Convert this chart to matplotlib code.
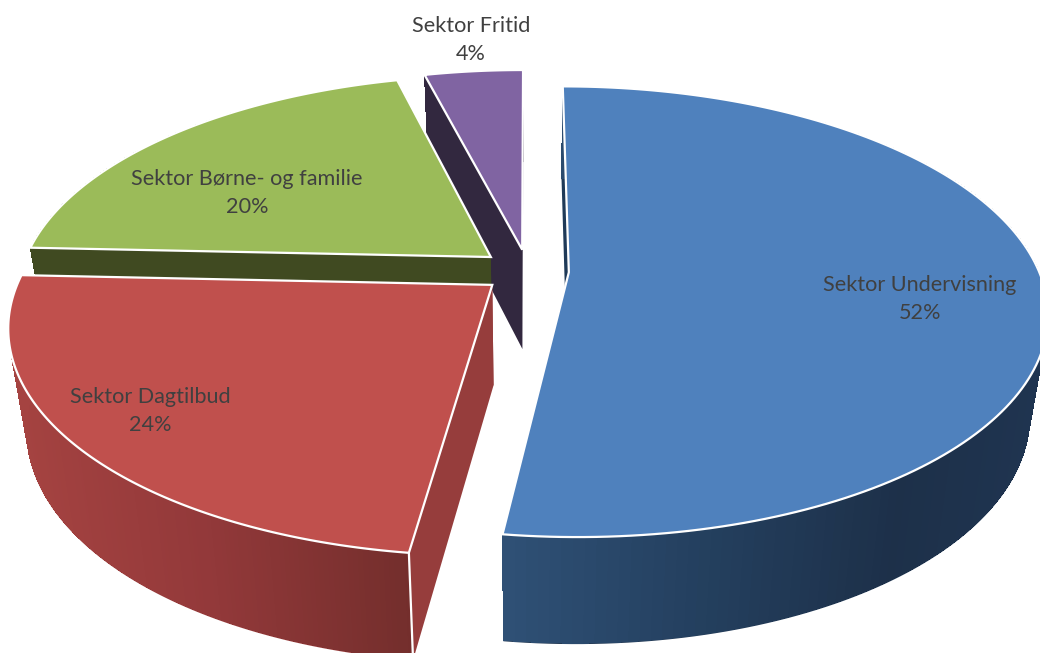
# -*- coding: utf-8 -*-

"""
Exploded 3D pie of the share per sector, drawn with plain polygons.
"""

# %% Imports
import numpy as np
import matplotlib
matplotlib.use("Agg")
import matplotlib.pyplot as plt
from matplotlib.collections import PolyCollection
from matplotlib.patches import Polygon

# %% Data
sectors = ["Sektor Undervisning", "Sektor Dagtilbud",
           "Sektor Børne- og familie", "Sektor Fritid"]
shares = [52.1, 23.6, 20.3, 4.0]

# %% Style
top_colors = ["#4f81bd", "#c0504d", "#9bbb59", "#8064a2"]
wall_colors = ["#1f3a58", "#963d3c", "#404a21", "#32283f"]
rim_stops = [
    ([501, 700, 900, 1040], ["#2f5176", "#24405f", "#1d3049", "#1f3450"]),
    ([10, 200, 412], ["#a54341", "#93393a", "#732e2c"]),
    ([0, 1040], ["#404a21", "#404a21"]),
    ([0, 1040], ["#32283f", "#32283f"]),
]
explode = [0.087, 0.098, 0.103, 0.1]
label_xy = [(920, 299), (150, 411), (247, 193), (471, 40)]

# projection of the pie plane onto the picture, in pixels
CX, CY = 528, 271
RX, RY = 470, 218
PERSP = 0.175
DEPTH = 100
START_ANGLE = 0.0


def project(u, v, depth=0.0):
    w = 1 + PERSP * v
    x = CX + RX * u / w
    y = CY - RY * v / w
    if depth:
        # the lower plane sits a little lower at the front, and narrows slightly
        y = y + depth * (1.0 - 0.07 * v)
        x = x + (CX - x) * 0.035
    return x, y


def rim_colors(x_mid, stops):
    xs, cols = stops
    rgb = np.array([matplotlib.colors.to_rgb(c) for c in cols])
    return np.column_stack([np.interp(x_mid, xs, rgb[:, i]) for i in range(3)])


# %% Figure
fig = plt.figure(figsize=(10.40, 6.53), dpi=100)
ax = fig.add_axes([0, 0, 1, 1])
ax.set_xlim(0, 1040)
ax.set_ylim(653, 0)
ax.axis("off")

total = sum(shares)
ends = START_ANGLE + np.cumsum(shares) / total * 360.0
starts = ends - np.array(shares) / total * 360.0

# painter's order: from the back of the pie to the front
for i in [3, 2, 1, 0]:
    a0, a1 = np.radians(starts[i]), np.radians(ends[i])
    mid = (a0 + a1) / 2
    off_u, off_v = explode[i] * np.sin(mid), explode[i] * np.cos(mid)
    theta = np.linspace(a0, a1, 160)
    arc_u = off_u + np.sin(theta)
    arc_v = off_v + np.cos(theta)

    tx, ty = project(arc_u, arc_v)
    bx, by = project(arc_u, arc_v, DEPTH)
    ax0, ay0 = project(off_u, off_v)
    ax1, ay1 = project(off_u, off_v, DEPTH)
    base_z = 10 + (3 - i) * 10

    # the two radial walls
    for k in (-1, 0):
        wall = [(ax0, ay0), (tx[k], ty[k]), (bx[k], by[k]), (ax1, ay1)]
        ax.add_patch(Polygon(wall, closed=True, facecolor=wall_colors[i],
                             edgecolor="none", zorder=base_z))

    # outer rim: a smooth underlay for the edge, then bands shaded along x
    colors = rim_colors((tx[:-1] + tx[1:]) / 2, rim_stops[i])
    under = np.column_stack([np.r_[tx, bx[::-1]], np.r_[ty, by[::-1]]])
    ax.add_patch(Polygon(under, closed=True, facecolor=colors.mean(axis=0),
                         edgecolor="none", zorder=base_z + 1))
    quads = [[(tx[j], ty[j]), (tx[j + 1], ty[j + 1]),
              (bx[j + 1], by[j + 1] - 1), (bx[j], by[j] - 1)]
             for j in range(len(tx) - 1)]
    ax.add_collection(PolyCollection(quads, facecolors=colors, edgecolors="none",
                                     antialiaseds=False, zorder=base_z + 2))

    # top face
    top = np.column_stack([np.r_[ax0, tx], np.r_[ay0, ty]])
    ax.add_patch(Polygon(top, closed=True, facecolor=top_colors[i],
                         edgecolor="white", linewidth=1.6, joinstyle="miter",
                         zorder=base_z + 3))

    # white corner between the front wall and the rim
    if i == 1:
        ax.plot([tx[0], bx[0]], [ty[0], by[0]], color="white", linewidth=1.6,
                zorder=base_z + 3)

# %% Labels
for name, share, (lx, ly) in zip(sectors, shares, label_xy):
    ax.text(lx, ly, f"{name}\n{round(share)}%", ha="center", va="center",
            family="Lato", fontsize=15.6, color="#404040", linespacing=1.55,
            zorder=100)

fig.savefig("out.png", dpi=100)
